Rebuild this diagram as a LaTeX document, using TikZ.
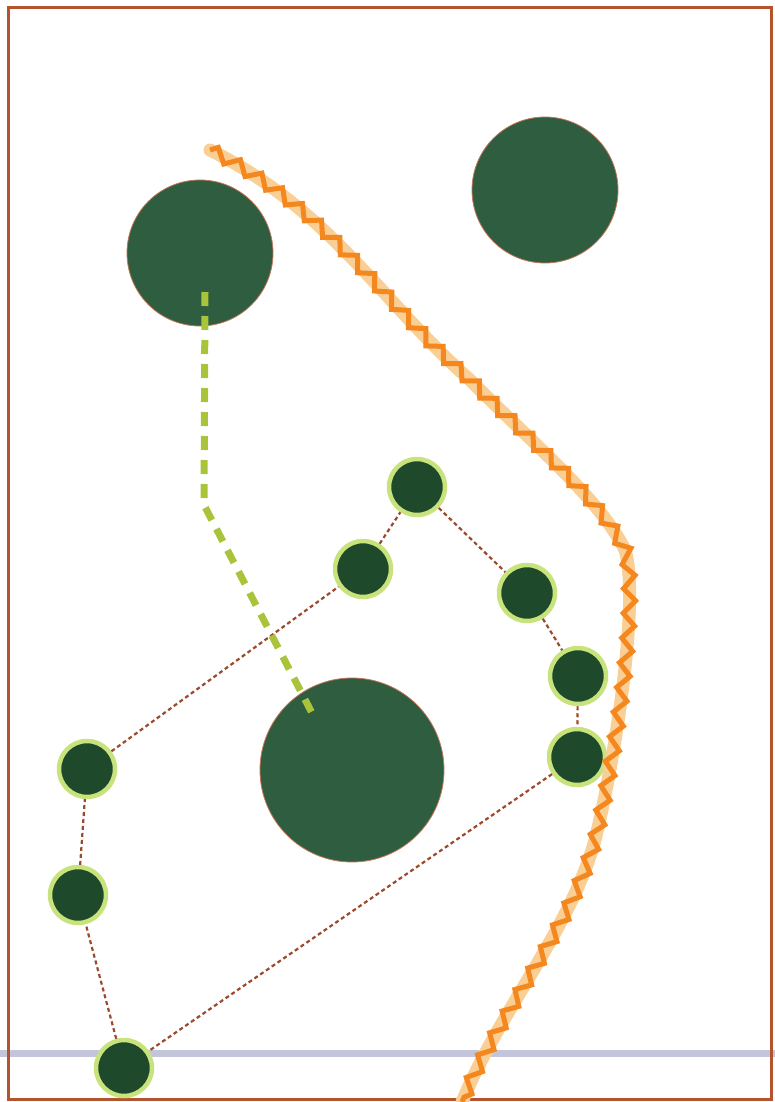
\documentclass[tikz,border=0pt]{standalone}
\usepackage{xcolor}
\usetikzlibrary{decorations.pathmorphing}

\definecolor{frameBrown}{HTML}{B4532E}
\definecolor{treeGreen}{HTML}{2F5D3F}
\definecolor{shrubGreen}{HTML}{1E4A2B}
\definecolor{shrubRing}{HTML}{C9E37C}
\definecolor{pathOrange}{HTML}{F5871F}
\definecolor{pathPale}{HTML}{F9CF96}
\definecolor{linkBrown}{HTML}{9C4A2C}
\definecolor{trailGreen}{HTML}{A9C43B}
\definecolor{groundBlue}{HTML}{C3C6DA}

\begin{document}
\begin{tikzpicture}[x=1pt, y=-1pt,
  tree/.style={circle, draw=frameBrown!80, line width=0.8, fill=treeGreen,
               inner sep=0pt},
  shrub/.style={circle, draw=shrubRing, line width=4.5, fill=shrubGreen,
                minimum size=56, inner sep=0pt},
  link/.style={draw=linkBrown, line width=2.2, dash pattern=on 4 off 3},
  trail/.style={draw=trailGreen, line width=7, dash pattern=on 14 off 10},
  stairband/.style={draw=pathPale, line width=13, line cap=round},
  stairs/.style={draw=pathOrange, line width=5,
                 decorate, decoration={zigzag, segment length=25, amplitude=6}}
]
  \useasboundingbox (0,0) rectangle (775,1102);

  % Ground line
  \coordinate (gw) at (0,1053);
  \coordinate (ge) at (775,1053);
  \draw[groundBlue, line width=7] (gw) -- (ge);

  % Frame
  \draw[frameBrown, line width=3] (8,8) rectangle (771,1099);

  % Large trees
  \node[tree, minimum size=146] (treeA) at (200,253) {};
  \node[tree, minimum size=146] (treeB) at (545,190) {};
  \node[tree, minimum size=184] (treeC) at (352,770) {};

  % Shrubs
  \node[shrub] (s1) at (417,487)  {};
  \node[shrub] (s2) at (363,569)  {};
  \node[shrub] (s3) at (527,593)  {};
  \node[shrub] (s4) at (578,676)  {};
  \node[shrub] (s5) at (577,757)  {};
  \node[shrub] (s6) at (87,769)   {};
  \node[shrub] (s7) at (78,895)   {};
  \node[shrub] (s8) at (124,1068) {};

  % Links between shrubs
  \draw[link] (s2) -- (s1);
  \draw[link] (s1) -- (s3);
  \draw[link] (s3) -- (s4);
  \draw[link] (s4) -- (s5);
  \draw[link] (s5) -- (s8);
  \draw[link] (s8) -- (s7);
  \draw[link] (s7) -- (s6);
  \draw[link] (s6) -- (s2);

  % Green trail
  \coordinate (ta) at (205,292);
  \coordinate (tb) at (204,505);
  \coordinate (tc) at (312,713);
  \draw[trail] (ta) -- (tb) -- (tc);

  % Orange stair path
  \coordinate (p0) at (210,150);
  \coordinate (p9) at (462,1102);
  \path[stairband] (p0) .. controls (330,210) and (380,300) .. (470,380)
    .. controls (540,450) and (600,500) .. (625,550)
    .. controls (640,600) and (615,760) .. (595,840)
    .. controls (570,930) and (500,1010) .. (p9);
  \path[stairs] (p0) .. controls (330,210) and (380,300) .. (470,380)
    .. controls (540,450) and (600,500) .. (625,550)
    .. controls (640,600) and (615,760) .. (595,840)
    .. controls (570,930) and (500,1010) .. (p9);
\end{tikzpicture}
\end{document}
